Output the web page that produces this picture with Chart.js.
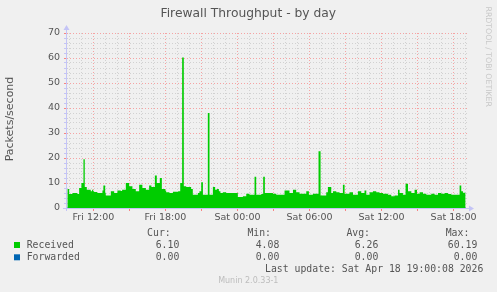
<!DOCTYPE html>
<html>
<head>
<meta charset="utf-8">
<script src="https://cdn.jsdelivr.net/npm/chart.js@4"></script>
<style>
html, body { margin: 0; padding: 0; background: #f0f0f0; }
</style>
</head>
<body>
<canvas id="fw" width="497" height="292"></canvas>
<script>
// hours since Fri 00:00, each value holds until the next sample
const times = [9.83, 9.98, 10.25, 10.67, 10.81, 11.00, 11.17, 11.28, 11.45, 11.78,
  11.89, 11.98, 12.06, 12.33, 12.75, 12.83, 12.98, 13.03, 13.45, 13.73,
  14.00, 14.28, 14.39, 14.70, 14.98, 15.25, 15.53, 15.81, 16.08, 16.37,
  16.64, 16.83, 17.12, 17.28, 17.53, 17.70, 17.98,
  18.06, 18.33, 18.62, 19.06, 19.23, 19.39, 19.53, 19.73, 20.14, 20.28,
  20.70, 20.83, 20.98, 21.12, 21.53, 21.67, 21.95, 22.14, 22.28, 22.45,
  22.58, 22.78, 23.06, 24.03, 24.45, 24.73, 25.00, 25.42, 25.56, 25.98,
  26.14, 26.28,
  26.39, 26.95, 27.23, 27.92, 28.33, 28.62, 28.89, 29.17, 29.73, 29.95,
  30.28, 30.75, 30.92, 31.39, 31.53, 31.81, 31.95, 32.23, 32.50, 32.78,
  32.92, 33.33, 33.62, 34.03, 34.31, 34.58,
  34.73, 35.00, 35.28, 35.56, 35.83, 36.12, 36.53, 36.81, 37.08, 37.37,
  37.50, 37.78, 38.00, 38.20, 38.48, 38.75, 38.95, 39.17, 39.45, 39.73,
  40.14, 40.42, 40.70, 40.98, 41.25, 41.53, 41.81, 42.50, 42.64, 42.78,
  43.00];

const received = [7.6, 5.6, 6, 5.6, 8, 10, 19.5, 8.4, 7.3, 6.7,
  7.3, 6.7, 6.4, 6, 7, 9, 6, 5, 6.7, 6,
  7, 6.8, 7.3, 10, 8.7, 7.6, 6.7, 9.3, 8, 7.3,
  9, 8.4, 13, 10, 12, 7.6, 7,
  6.3, 6, 6.5, 6.7, 10, 60.19, 8.7, 8.4, 7.6, 5.3,
  6, 6.7, 10.3, 5.3, 38, 5.3, 8.4, 7.3, 7.6, 6.7,
  6, 6.3, 6, 4.4, 4.7, 5.7, 5.3, 12.5, 5.3, 5.6,
  12.5, 6,
  6, 5.7, 5.3, 7, 6, 7.3, 6.3, 5.7, 6.7, 5.3,
  5.7, 22.7, 5, 6.3, 8.4, 6, 6.7, 6.3, 6, 9.3,
  5.7, 6.3, 5.3, 6.7, 6, 7,
  5.3, 6.3, 6.7, 6.3, 6, 5.7, 5.3, 4.7, 5, 7.3,
  6, 5.3, 9.7, 6.7, 6, 7.3, 5.7, 6.3, 5.7, 5.3,
  5.7, 5.3, 6, 5.7, 6, 5.6, 5.3, 9, 6.7, 6.1,
  6.1];

const forwardedTimes = [9.83, 43.00];
const forwarded = [0, 0];

const dayNames = ['Fri', 'Sat'];
const seriesNames = ['Received', 'Forwarded'];
const seriesColors = ['#00cc00', '#0066b3'];
const statHeaders = ['Cur:', 'Min:', 'Avg:', 'Max:'];
const curValues = ['6.10', '0.00'];
const minValues = ['4.08', '0.00'];
const avgValues = ['6.26', '0.00'];
const maxValues = ['60.19', '0.00'];
const lastUpdate = 'Last update: Sat Apr 18 19:00:08 2026';

const MAJOR = 'rgba(255, 0, 0, 0.32)';
const MINOR = 'rgba(130, 130, 130, 0.28)';
const AXIS = '#c4c4f6';
const TEXT = '#555';

function pad(n) { return (n < 10 ? '0' : '') + n; }

// munin style frame: axis arrows, title and the legend table
const muninDecor = {
  id: 'muninDecor',
  afterDatasetsDraw(chart) {
    const ctx = chart.ctx;
    const a = chart.chartArea;
    ctx.save();
    ctx.strokeStyle = AXIS;
    ctx.fillStyle = AXIS;
    ctx.lineWidth = 1;
    ctx.beginPath();
    ctx.moveTo(a.left - 0.5, a.bottom + 3);
    ctx.lineTo(a.left - 0.5, a.top - 4);
    ctx.moveTo(a.left - 4, a.bottom + 0.5);
    ctx.lineTo(a.right + 2, a.bottom + 0.5);
    ctx.stroke();
    ctx.beginPath();
    ctx.moveTo(a.left - 3.5, a.top - 3);
    ctx.lineTo(a.left + 2.5, a.top - 3);
    ctx.lineTo(a.left - 0.5, a.top - 8);
    ctx.fill();
    ctx.beginPath();
    ctx.moveTo(a.right + 1, a.bottom - 2.5);
    ctx.lineTo(a.right + 1, a.bottom + 3.5);
    ctx.lineTo(a.right + 6, a.bottom + 0.5);
    ctx.fill();
    ctx.restore();
  },
  afterDraw(chart) {
    const ctx = chart.ctx;
    ctx.save();
    ctx.textBaseline = 'middle';

    ctx.fillStyle = TEXT;
    ctx.font = '12.3px "DejaVu Sans"';
    ctx.textAlign = 'center';
    ctx.fillText('Firewall Throughput - by day', 248.3, 13.5);

    ctx.save();
    ctx.translate(10.5, 119);
    ctx.rotate(-Math.PI / 2);
    ctx.font = '11px "DejaVu Sans"';
    ctx.fillText('Packets/second', 0, 0);
    ctx.restore();

    ctx.save();
    ctx.translate(488.3, 56.7);
    ctx.rotate(Math.PI / 2);
    ctx.fillStyle = '#c8c8c8';
    ctx.font = '7.8px "DejaVu Sans"';
    ctx.fillText('RRDTOOL / TOBI OETIKER', 0, 0);
    ctx.restore();

    ctx.font = '9.8px "DejaVu Sans Mono"';
    ctx.fillStyle = TEXT;
    ctx.textAlign = 'right';
    const headX = [170.7, 271, 370, 469.3];
    statHeaders.forEach((h, i) => ctx.fillText(h, headX[i], 233.5));

    const colX = [179.3, 279.3, 378.3, 477.3];
    const rowY = [245, 257.3];
    seriesNames.forEach((name, r) => {
      ctx.fillStyle = seriesColors[r];
      ctx.fillRect(14, rowY[r] - 3, 6, 6);
      ctx.fillStyle = TEXT;
      ctx.textAlign = 'left';
      ctx.fillText(name, 26.7, rowY[r]);
      ctx.textAlign = 'right';
      [curValues, minValues, avgValues, maxValues].forEach((col, c) => {
        ctx.fillText(col[r], colX[c], rowY[r]);
      });
    });
    ctx.fillText(lastUpdate, 483.3, 269.5);

    ctx.textAlign = 'center';
    ctx.fillStyle = '#bdbdbd';
    ctx.font = '8px "DejaVu Sans"';
    ctx.fillText('Munin 2.0.33-1', 248.3, 281);
    ctx.restore();
  }
};

const chart = new Chart(document.getElementById('fw').getContext('2d'), {
  type: 'line',
  data: {
    datasets: [
      {
        label: seriesNames[0],
        data: times.map((t, i) => ({ x: t, y: received[i] })),
        stepped: true,
        fill: 'origin',
        backgroundColor: seriesColors[0],
        borderColor: seriesColors[0],
        borderWidth: 0,
        pointRadius: 0
      },
      {
        label: seriesNames[1],
        data: forwardedTimes.map((t, i) => ({ x: t, y: forwarded[i] })),
        fill: false,
        borderColor: seriesColors[1],
        borderWidth: 1,
        pointRadius: 0
      }
    ]
  },
  options: {
    responsive: false,
    animation: false,
    layout: { padding: { top: 33, right: 29, bottom: 0, left: 0 } },
    plugins: {
      legend: { display: false },
      tooltip: { enabled: false }
    },
    scales: {
      x: {
        type: 'linear',
        min: 9.8,
        max: 43.2,
        afterFit: s => { s.height = 84; },
        ticks: {
          stepSize: 1,
          autoSkip: false,
          includeBounds: false,
          maxRotation: 0,
          padding: 1,
          color: TEXT,
          font: { family: 'DejaVu Sans', size: 9.5 },
          callback: v => {
            const h = Math.round(v);
            if (h % 6 !== 0) return '';
            return dayNames[Math.floor(h / 24)] + ' ' + pad(h % 24) + ':00';
          }
        },
        grid: {
          color: c => Math.round(c.tick.value) % 3 === 0 ? MAJOR : MINOR,
          tickColor: c => Math.round(c.tick.value) % 3 === 0 ? 'rgba(255,0,0,0.45)' : 'rgba(0,0,0,0)',
          tickLength: 3,
          lineWidth: 1
        },
        border: { display: false, dash: [1, 2] }
      },
      y: {
        min: 0,
        max: 70,
        afterFit: s => { s.width = 67; },
        ticks: {
          stepSize: 2,
          autoSkip: false,
          padding: 4,
          color: TEXT,
          font: { family: 'DejaVu Sans', size: 9.5 },
          callback: v => (Math.round(v) % 10 === 0 ? String(v) : '')
        },
        grid: {
          color: c => {
            const v = Math.round(c.tick.value);
            if (v === 0) return 'rgba(0,0,0,0)';
            return v % 10 === 0 ? MAJOR : MINOR;
          },
          tickColor: c => Math.round(c.tick.value) % 10 === 0 ? 'rgba(255,0,0,0.45)' : AXIS,
          tickLength: 3,
          lineWidth: 1
        },
        border: { display: false, dash: [1, 2] }
      }
    }
  },
  plugins: [muninDecor]
});
</script>
</body>
</html>
